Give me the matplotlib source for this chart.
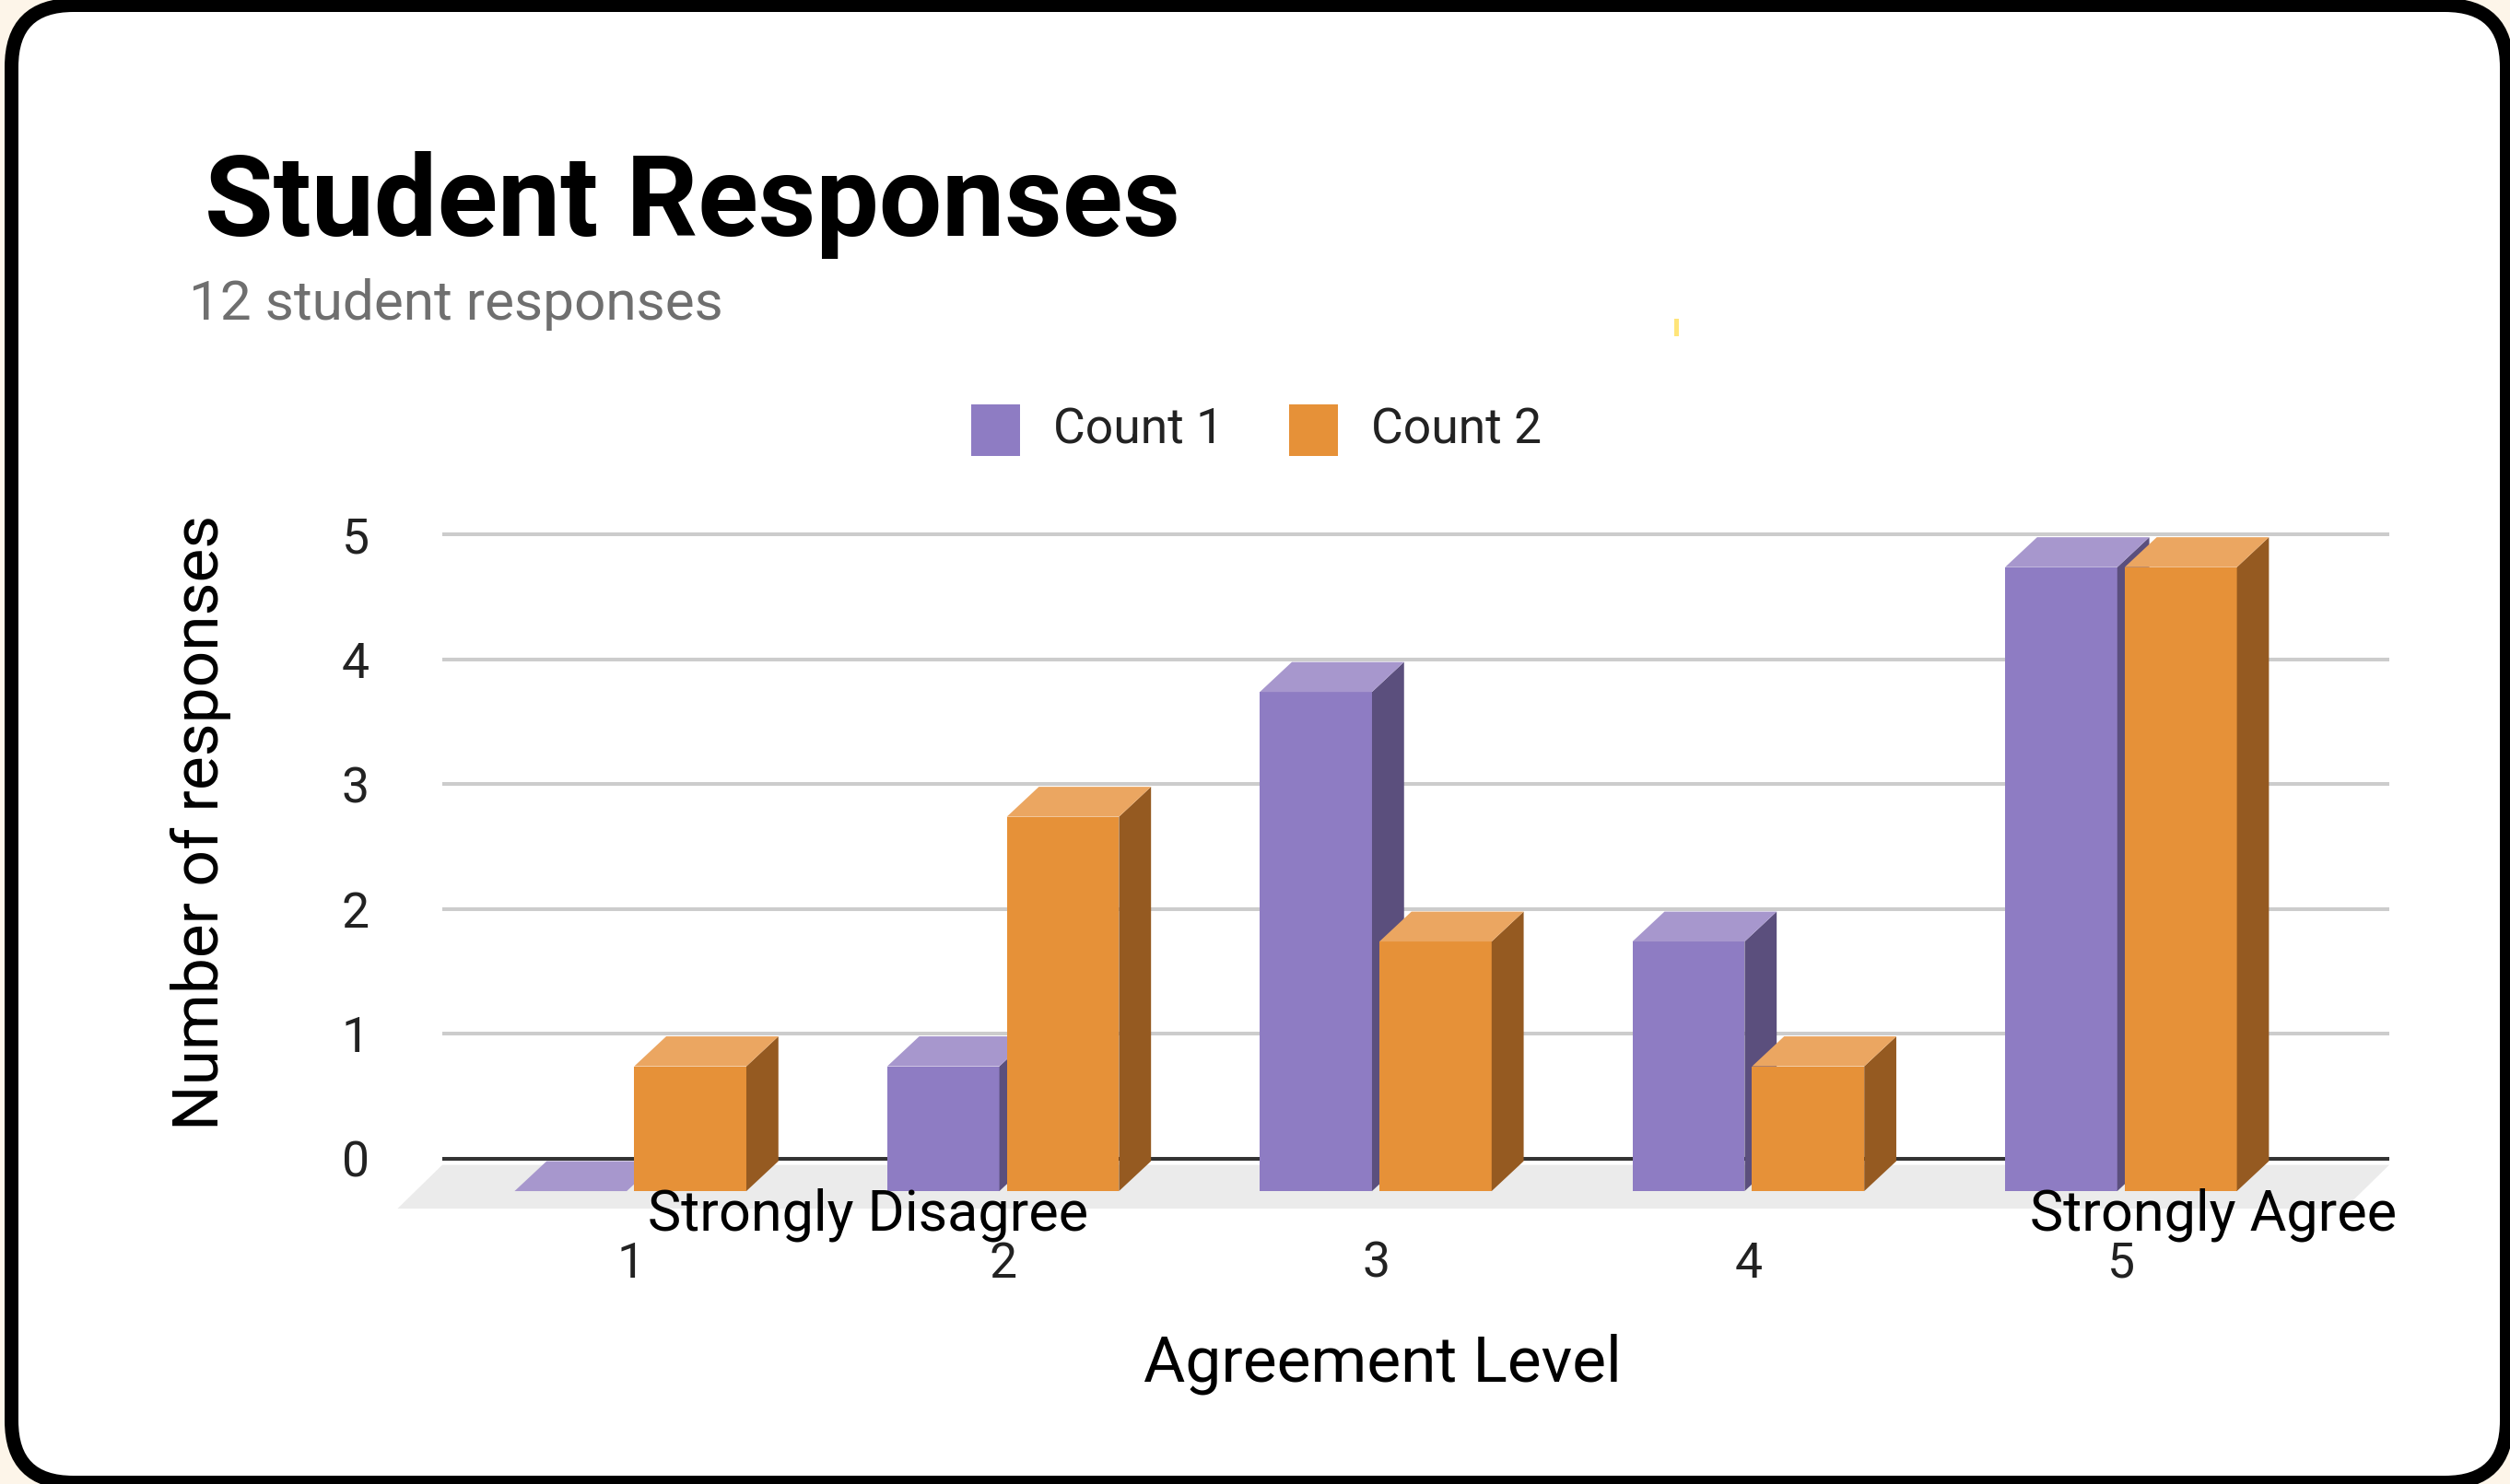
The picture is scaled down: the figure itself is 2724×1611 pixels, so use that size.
import matplotlib.pyplot as plt
from matplotlib.patches import Polygon, FancyBboxPatch, Rectangle

# Дані з графіка
categories = [1, 2, 3, 4, 5]
count1 = [0, 1, 4, 2, 5]
count2 = [1, 3, 2, 1, 5]
series_names = ["Count 1", "Count 2"]
y_ticks = [0, 1, 2, 3, 4, 5]

W, H, DPI = 2724, 1611, 100

plt.rcParams['font.family'] = ['Roboto', 'DejaVu Sans']

front_colors = ['#8e7cc3', '#e69138']
top_colors = ['#a797cd', '#eba661']
side_colors = ['#5b4f7d', '#955a21']

# розміри "3D" ефекту (в одиницях даних)
BAR_W = 0.301
GAP = 0.02
DX = 0.086        # глибина по x
FRONT_DY = 0.26   # зсув передньої грані вниз
BACK_DY = 0.02


def fx(px):
    return px / W


def fy(py):
    return 1 - py / H


fig = plt.figure(figsize=(W / DPI, H / DPI), dpi=DPI, facecolor='#fdf5e9')

# рамка із заокругленими кутами
frame = FancyBboxPatch((0.125, 0.015), 27.08, 16.04,
                       boxstyle='round,pad=0,rounding_size=0.67',
                       transform=fig.dpi_scale_trans, facecolor='white',
                       edgecolor='black', linewidth=10.8, zorder=-1)
fig.patches.append(frame)

# заголовок
fig.text(fx(222), fy(256), "Student Responses", fontsize=87.5, fontweight='bold',
         color='black', ha='left', va='baseline')
fig.text(fx(205), fy(347), "12 student responses", fontsize=43.5,
         color='#6f6f6f', ha='left', va='baseline')

# легенда
for i, (name, px) in enumerate(zip(series_names, [1054, 1399])):
    fig.patches.append(Rectangle((fx(px), fy(495)), fx(53), 56 / H,
                                 transform=fig.transFigure,
                                 facecolor=front_colors[i], edgecolor='none'))
    fig.text(fx(px + 89), fy(482), name, fontsize=38.5, color='#222222',
             ha='left', va='baseline')

# маленька жовта позначка
fig.patches.append(Rectangle((fx(1817), fy(365)), fx(5), 19 / H,
                             transform=fig.transFigure,
                             facecolor='#ffe57a', edgecolor='none'))

ax = fig.add_axes([fx(480), fy(1312), fx(2593) - fx(480), (1312 - 573.7) / H])
ax.set_facecolor('none')
ax.set_xlim(0.495, 5.72)
ax.set_ylim(-0.4, 5.05)
for s in ax.spines.values():
    s.set_visible(False)

ax.set_yticks(y_ticks)
ax.set_yticklabels([str(t) for t in y_ticks])
ax.yaxis.grid(True, color='#cccccc', linewidth=2.9)
ax.set_axisbelow(True)
ax.axhline(0, color='#333333', linewidth=2.9, zorder=1.5)

ax.set_xticks(categories)
ax.set_xticklabels([str(c) for c in categories])
ax.tick_params(axis='x', length=0, pad=25, labelsize=38.5, labelcolor='#222222')
ax.tick_params(axis='y', length=0, pad=57, labelsize=38.5, labelcolor='#222222')

# підлога
x0, x1 = ax.get_xlim()
floor_dx = 0.12
floor = Polygon([(x0, -0.05), (x1, -0.05), (x1 - floor_dx, -0.4), (x0 - floor_dx, -0.4)],
                closed=True, facecolor='#ebebeb', edgecolor='none', zorder=1,
                clip_on=False)
ax.add_patch(floor)

# стовпчики
z = 3
for i, c in enumerate(categories):
    for s, vals in enumerate([count1, count2]):
        v = vals[i]
        left = c - GAP / 2 - BAR_W if s == 0 else c + GAP / 2
        right = left + BAR_W
        ax.bar(left, v, width=BAR_W, bottom=-FRONT_DY, align='edge',
               color=front_colors[s], zorder=z, linewidth=0)
        side = Polygon([(right, -FRONT_DY), (right + DX, -BACK_DY),
                        (right + DX, v - BACK_DY), (right, v - FRONT_DY)],
                       closed=True, facecolor=side_colors[s], edgecolor='none',
                       zorder=z, clip_on=False)
        top = Polygon([(left, v - FRONT_DY), (right, v - FRONT_DY),
                       (right + DX, v - BACK_DY), (left + DX, v - BACK_DY)],
                      closed=True, facecolor=top_colors[s], edgecolor='none',
                      zorder=z, clip_on=False)
        ax.add_patch(side)
        ax.add_patch(top)
        z += 1

# підписи осей
fig.text(fx(218), fy(893), "Number of responses", fontsize=50, rotation=90,
         color='black', ha='center', va='center')
fig.text(fx(1500), fy(1500), "Agreement Level", fontsize=50, color='black',
         ha='center', va='baseline')

# підписи шкали
fig.text(fx(703), fy(1336), "Strongly Disagree", fontsize=44, color='black',
         ha='left', va='baseline', zorder=10)
fig.text(fx(2601), fy(1336), "Strongly Agree", fontsize=44, color='black',
         ha='right', va='baseline', zorder=10)

fig.savefig('out.png', dpi=DPI, facecolor=fig.get_facecolor())
